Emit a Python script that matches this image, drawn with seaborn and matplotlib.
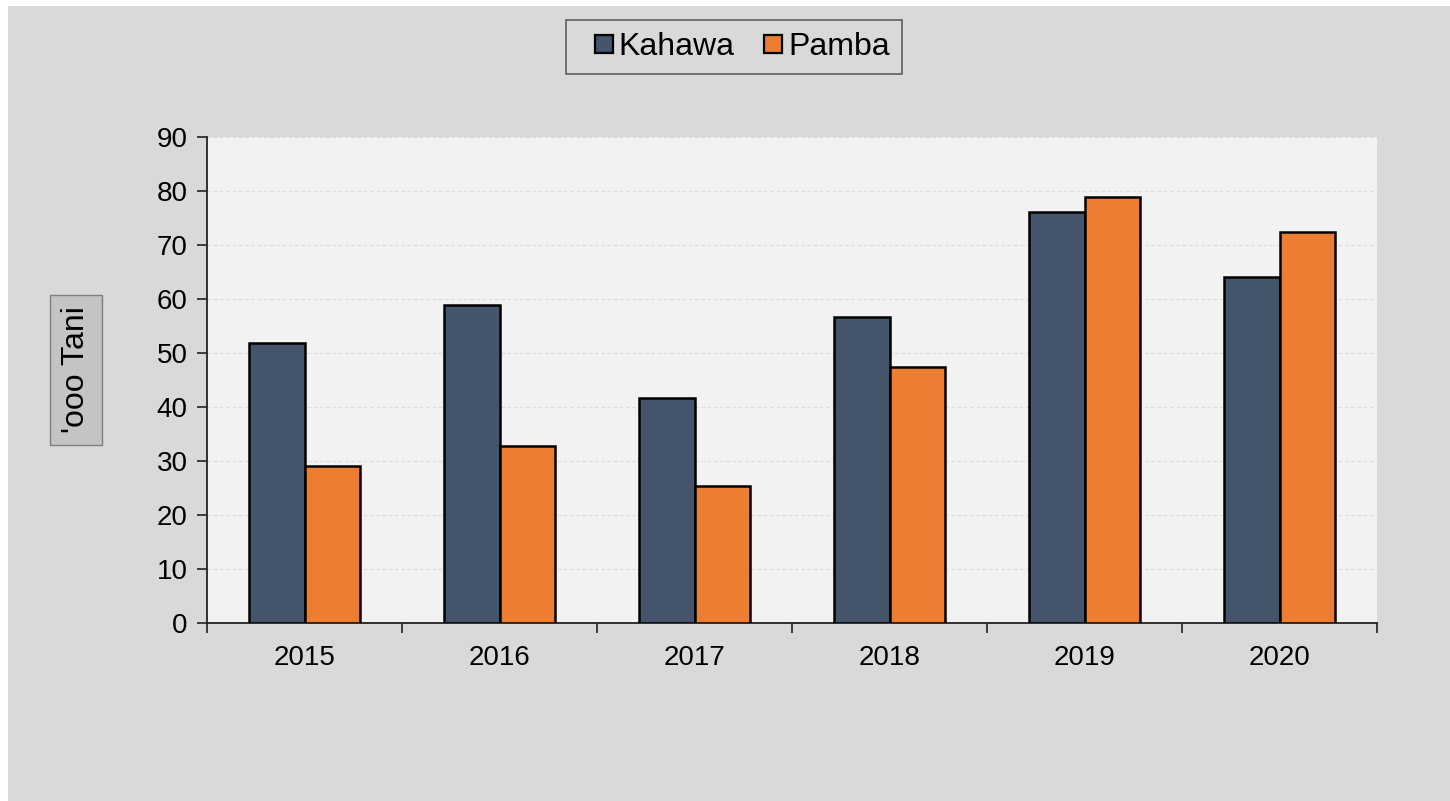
import pandas as pd
import seaborn as sns
import matplotlib.pyplot as plt
from matplotlib.patches import Rectangle
from matplotlib.ticker import FixedLocator

years = ['2015', '2016', '2017', '2018', '2019', '2020']
kahawa = [51.9, 58.8, 41.7, 56.6, 76.1, 64.0]
pamba = [29.1, 32.8, 25.4, 47.4, 78.8, 72.5]
series = ['Kahawa', 'Pamba']
colors = ['#44546a', '#ed7d31']

df = pd.DataFrame({
    'year': years * 2,
    'value': kahawa + pamba,
    'crop': ['Kahawa'] * len(years) + ['Pamba'] * len(years),
})

sns.set_style('white')
plt.rcParams['font.family'] = ['Liberation Sans', 'DejaVu Sans']
plt.rcParams['text.color'] = 'black'
plt.rcParams['xtick.color'] = '#222222'
plt.rcParams['ytick.color'] = '#222222'
plt.rcParams['xtick.labelcolor'] = 'black'
plt.rcParams['ytick.labelcolor'] = 'black'

fig = plt.figure(figsize=(14.5, 8.01), dpi=100, facecolor='white')
# grey chart area with a thin white margin top and left
fig.patches.append(Rectangle((8 / 1450, 0), 1, 795 / 801, transform=fig.transFigure,
                             facecolor='#d9d9d9', edgecolor='none', zorder=-10))

ax = fig.add_axes([207 / 1450, 1 - 623 / 801, 1170 / 1450, 486 / 801])
ax.set_facecolor('#f2f2f2')

sns.barplot(data=df, x='year', y='value', hue='crop', hue_order=series,
            palette=colors, width=0.57, edgecolor='black', linewidth=1.8,
            saturation=1, ax=ax, legend=False, zorder=3)

ax.set_ylim(0, 90)
ax.set_xlim(-0.5, 5.5)
ax.set_yticks(range(0, 91, 10))
ax.yaxis.grid(True, color='#dcdcdc', linestyle=(0, (3, 2)), linewidth=0.9, zorder=0)
ax.set_axisbelow(True)

for s in ['top', 'right']:
    ax.spines[s].set_visible(False)
for s in ['left', 'bottom']:
    ax.spines[s].set_color('#222222')
    ax.spines[s].set_linewidth(1.3)

ax.tick_params(axis='y', left=True, labelsize=20, length=7, width=1.2, pad=7)
ax.tick_params(axis='x', which='major', bottom=True, labelsize=20, length=0, pad=16)
ax.xaxis.set_minor_locator(FixedLocator([i - 0.5 for i in range(len(years) + 1)]))
ax.tick_params(axis='x', which='minor', bottom=True, length=7, width=1.2)
ax.set_xlabel('')
ax.set_ylabel('')

fig.text(76 / 1450, 1 - 370 / 801, "'ooo Tani", rotation=90, fontsize=23,
         ha='center', va='center',
         bbox=dict(boxstyle='square,pad=0.35', facecolor='#c4c4c4', edgecolor='#808080'))

handles = [plt.Line2D([], [], marker='s', linestyle='none', markersize=13,
                      markerfacecolor=c, markeredgecolor='black', markeredgewidth=1.6)
           for c in colors]
leg = fig.legend(handles, series, loc='center', bbox_to_anchor=(734 / 1450, 1 - 47 / 801),
                 ncol=2, fontsize=23, frameon=True, fancybox=False,
                 handlelength=1.6, handletextpad=-0.33, columnspacing=0.4,
                 borderpad=0.38, borderaxespad=0)
leg.get_frame().set_facecolor('#d9d9d9')
leg.get_frame().set_edgecolor('#404040')
leg.get_frame().set_linewidth(1.2)

fig.savefig('out.png', dpi=100, facecolor=fig.get_facecolor())
